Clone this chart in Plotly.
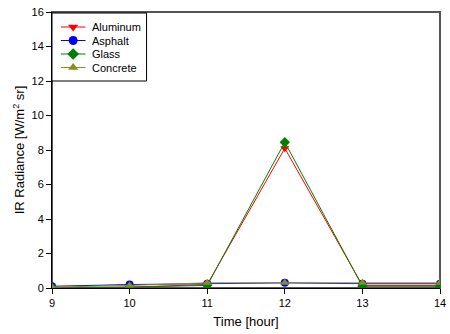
import plotly.graph_objects as go

hours = [9, 10, 11, 12, 13, 14]
aluminum = [0.02, 0.05, 0.2, 8.1, 0.15, 0.15]
asphalt = [0.1, 0.2, 0.25, 0.3, 0.25, 0.25]
glass = [0.0, 0.05, 0.15, 8.45, 0.1, 0.1]
concrete = [0.05, 0.15, 0.3, 0.3, 0.3, 0.3]

series = [
    ("Aluminum", aluminum, "#ff0000", "triangle-down"),
    ("Asphalt", asphalt, "#0000ff", "circle"),
    ("Glass", glass, "#008000", "diamond"),
    ("Concrete", concrete, "#8c8c1e", "triangle-up"),
]

# plot area in pixels (for the hand-made legend)
PL, PR, PT, PB = 52, 446, 12, 288
def px_x(x):
    return (x - PL) / (PR - PL)
def px_y(y):
    return (PB - y) / (PB - PT)

fig = go.Figure()
for name, vals, col, sym in series:
    fig.add_trace(go.Scatter(
        x=hours, y=vals, name=name, mode="lines+markers",
        line=dict(color=col, width=1),
        marker=dict(symbol=sym, size=8, color=col),
        showlegend=False,
    ))

# outer grey frame
fig.add_shape(type="rect", xref="paper", yref="paper", x0=0, y0=0, x1=1, y1=1,
              line=dict(color="#555555", width=2), layer="below")
# legend box
fig.add_shape(type="rect", xref="paper", yref="paper",
              x0=px_x(52), x1=px_x(148), y0=px_y(81), y1=px_y(13),
              line=dict(color="black", width=1), fillcolor="white", layer="below")

row_y = [27, 40.5, 54, 67.5]
for (name, vals, col, sym), ry in zip(series, row_y):
    yy = px_y(ry)
    fig.add_trace(go.Scatter(
        x=[px_x(61), px_x(86)], y=[yy, yy],
        xaxis="x2", yaxis="y2", mode="lines",
        line=dict(color=col, width=1),
        showlegend=False, hoverinfo="skip", cliponaxis=False,
    ))
    fig.add_trace(go.Scatter(
        x=[px_x(73.5)], y=[yy],
        xaxis="x2", yaxis="y2", mode="markers",
        marker=dict(symbol=sym, size=9, color=col),
        showlegend=False, hoverinfo="skip", cliponaxis=False,
    ))
    fig.add_annotation(text=name, xref="paper", yref="paper",
                       x=px_x(91), y=yy, xanchor="left", yanchor="middle",
                       showarrow=False, font=dict(size=11, color="black"))

fig.update_layout(
    width=450, height=334,
    margin=dict(l=PL, r=450 - PR, t=PT, b=334 - PB),
    paper_bgcolor="white", plot_bgcolor="white",
    font=dict(family="Liberation Sans, Arial, sans-serif", size=11, color="black"),
    showlegend=False,
    xaxis=dict(range=[9, 14], tickvals=hours, showgrid=False, zeroline=False,
               showline=True, linecolor="black", linewidth=1,
               ticks="outside", ticklen=5, tickcolor="black",
               ticklabeloverflow="allow",
               title=dict(text="Time [hour]", font=dict(size=13), standoff=8)),
    yaxis=dict(range=[0, 16], tickvals=[0, 2, 4, 6, 8, 10, 12, 14, 16],
               showgrid=False, zeroline=False,
               showline=True, linecolor="black", linewidth=1,
               ticks="outside", ticklen=5, tickcolor="black",
               ticklabeloverflow="allow",
               title=dict(text="IR Radiance [W/m<sup>2</sup> sr]", font=dict(size=13), standoff=3)),
    xaxis2=dict(range=[0, 1], overlaying="x", anchor="y2", visible=False),
    yaxis2=dict(range=[0, 1], overlaying="y", anchor="x2", visible=False),
)

fig.write_html("out.html")
